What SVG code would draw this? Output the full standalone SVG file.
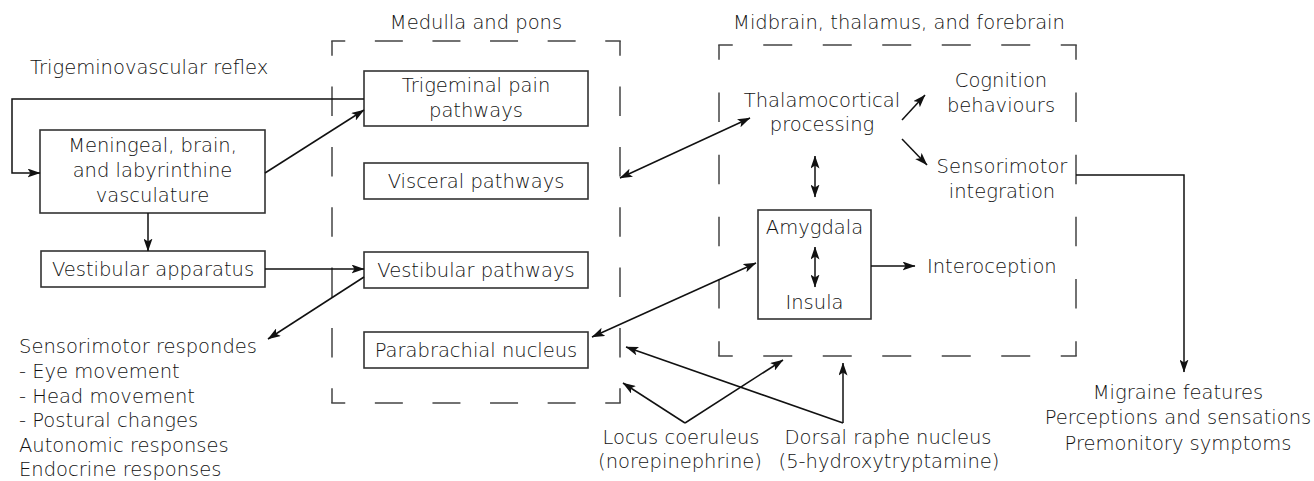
<svg xmlns="http://www.w3.org/2000/svg" width="1314" height="481" viewBox="0 0 1314 481">
<style>
text{font-family:"DejaVu Sans","Liberation Sans",sans-serif;font-size:19.5px;font-weight:300;fill:#111}
.c{text-anchor:middle}
.box{fill:#fff;stroke:#333;stroke-width:1.6}
.dash{stroke:#444;stroke-width:1.5;fill:none}
.ln{stroke:#111;stroke-width:1.5;fill:none}
.a{marker-end:url(#ah)}
.aa{marker-end:url(#ah);marker-start:url(#ah)}
</style>
<defs>
<marker id="ah" markerUnits="userSpaceOnUse" viewBox="0 0 13 9" refX="12.5" refY="4.5" markerWidth="13" markerHeight="9" orient="auto-start-reverse">
<path d="M0,0 L13,4.5 L0,9 L3,4.5 z" fill="#111"/>
</marker>
</defs>

<g id="medulla-pons">
<line class="dash" x1="331.25" y1="41" x2="620.75" y2="41" stroke-dasharray="28 29.6" stroke-dashoffset="14"/>
<line class="dash" x1="331.25" y1="403" x2="620.75" y2="403" stroke-dasharray="28 29.6" stroke-dashoffset="14"/>
<line class="dash" x1="332" y1="41" x2="332" y2="403" stroke-dasharray="29.5 30.83" stroke-dashoffset="14.75"/>
<line class="dash" x1="620" y1="41" x2="620" y2="403" stroke-dasharray="29.5 30.83" stroke-dashoffset="14.75"/>
<text class="c" x="476" y="29">Medulla and pons</text>
</g>

<g id="midbrain-thalamus-forebrain">
<line class="dash" x1="718.25" y1="45" x2="1076.75" y2="45" stroke-dasharray="29 30.5" stroke-dashoffset="14.5"/>
<line class="dash" x1="718.25" y1="356" x2="1076.75" y2="356" stroke-dasharray="29 30.5" stroke-dashoffset="14.5"/>
<line class="dash" x1="719" y1="45" x2="719" y2="356" stroke-dasharray="29.5 32.7" stroke-dashoffset="14.75"/>
<line class="dash" x1="1076" y1="45" x2="1076" y2="356" stroke-dasharray="29.5 32.7" stroke-dashoffset="14.75"/>
<text class="c" x="899" y="29">Midbrain, thalamus, and forebrain</text>
</g>

<g id="trigeminovascular-reflex">
<text x="30" y="73.5">Trigeminovascular reflex</text>
</g>

<g id="meningeal">
<rect class="box" x="40" y="130" width="225" height="83"/>
<text class="c" x="152.5" y="152">Meningeal, brain,</text>
<text class="c" x="152.5" y="177">and labyrinthine</text>
<text class="c" x="152.5" y="202">vasculature</text>
</g>

<g id="vestibular-apparatus">
<rect class="box" x="41" y="251" width="224" height="36"/>
<text class="c" x="153" y="275.5">Vestibular apparatus</text>
</g>

<g id="sensorimotor-responses">
<text x="19" y="352.7">Sensorimotor respondes</text>
<text x="19" y="377.6">- Eye movement</text>
<text x="19" y="402.5">- Head movement</text>
<text x="19" y="427.4">- Postural changes</text>
<text x="19" y="452.2">Autonomic responses</text>
<text x="19" y="476">Endocrine responses</text>
</g>

<g id="trigeminal-pain">
<rect class="box" x="364" y="71" width="224" height="55"/>
<text class="c" x="476" y="92">Trigeminal pain</text>
<text class="c" x="476" y="117">pathways</text>
</g>

<g id="visceral">
<rect class="box" x="364" y="163" width="224" height="36"/>
<text class="c" x="476" y="188">Visceral pathways</text>
</g>

<g id="vestibular-pathways">
<rect class="box" x="364" y="252" width="224" height="36"/>
<text class="c" x="476" y="276.5">Vestibular pathways</text>
</g>

<g id="parabrachial">
<rect class="box" x="364" y="332" width="224" height="36"/>
<text class="c" x="476" y="357">Parabrachial nucleus</text>
</g>

<g id="thalamocortical">
<text class="c" x="822" y="107">Thalamocortical</text>
<text class="c" x="822" y="131">processing</text>
</g>

<g id="cognition">
<text class="c" x="1001" y="87">Cognition</text>
<text class="c" x="1001" y="112">behaviours</text>
</g>

<g id="sensorimotor-integration">
<text class="c" x="1002" y="173">Sensorimotor</text>
<text class="c" x="1002" y="198">integration</text>
</g>

<g id="amygdala-insula">
<rect class="box" x="758" y="210" width="113" height="109"/>
<text class="c" x="814.5" y="234">Amygdala</text>
<text class="c" x="814.5" y="309">Insula</text>
</g>

<g id="interoception">
<text x="927" y="273">Interoception</text>
</g>

<g id="locus-coeruleus">
<text class="c" x="681" y="444">Locus coeruleus</text>
<text class="c" x="680" y="468">(norepinephrine)</text>
</g>

<g id="dorsal-raphe">
<text class="c" x="888" y="444">Dorsal raphe nucleus</text>
<text class="c" x="889" y="468">(5-hydroxytryptamine)</text>
</g>

<g id="migraine-features">
<text class="c" x="1178" y="399">Migraine features</text>
<text class="c" x="1178" y="424">Perceptions and sensations</text>
<text class="c" x="1178" y="450">Premonitory symptoms</text>
</g>

<g id="connectors">
<path class="ln a" d="M364,99 H12 V173 H40"/>
<line class="ln a" x1="265" y1="173" x2="364" y2="110"/>
<line class="ln a" x1="148" y1="213" x2="148" y2="251"/>
<line class="ln a" x1="265" y1="269" x2="364" y2="269"/>
<line class="ln a" x1="364" y1="277" x2="268" y2="339"/>
<line class="ln aa" x1="620" y1="178" x2="750" y2="118"/>
<line class="ln aa" x1="592" y1="337" x2="756" y2="263"/>
<path class="ln a" d="M685,423 L623,383"/>
<path class="ln a" d="M685,423 L783,360"/>
<path class="ln a" d="M843,423 L626,347"/>
<path class="ln a" d="M843,423 L843,363"/>
<line class="ln aa" x1="815" y1="156" x2="815" y2="197"/>
<line class="ln aa" x1="815" y1="247" x2="815" y2="287"/>
<line class="ln a" x1="871" y1="266" x2="915" y2="266"/>
<line class="ln a" x1="902" y1="120" x2="925" y2="95"/>
<line class="ln a" x1="902" y1="139" x2="927" y2="165"/>
<path class="ln a" d="M1076,175 H1184 V372"/>
</g>
</svg>
